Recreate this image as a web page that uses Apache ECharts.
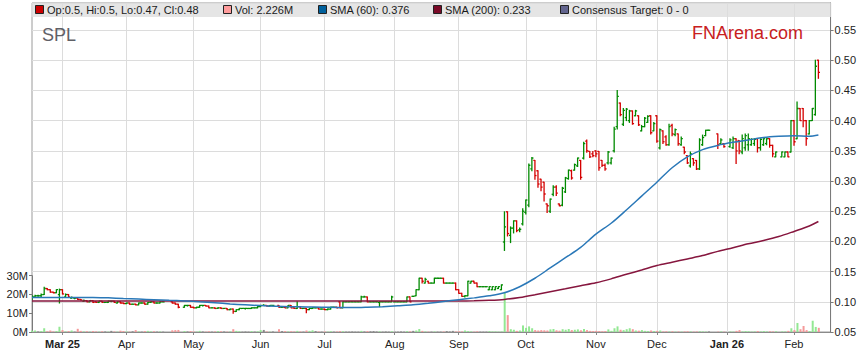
<!DOCTYPE html>
<html><head><meta charset="utf-8">
<script src="https://cdn.jsdelivr.net/npm/echarts@6/dist/echarts.min.js"></script>
<style>html,body{margin:0;padding:0;background:#fff}#c{width:859px;height:363px}</style>
</head><body><div id="c"></div>
<script>
// rows: [open, high, low, close, volume (millions)] ; null = no trading
const feb25 = [
[.104,.110,.104,.109,0.6],[.108,.111,.108,.110,0.8],[.110,.111,.109,.110,0.3],[.110,.113,.108,.112,0.5],
[.112,.124,.112,.122,2.0],[.122,.122,.120,.120,0.4],[.120,.120,.116,.116,0.8],[.116,.116,.115,.115,0.3],
[.115,.120,.115,.120,0.5],[.112,.121,.098,.120,2.8]];
const mar25 = [
[.120,.120,.113,.113,1.0],[.108,.113,.108,.112,0.3],[.112,.112,.108,.108,0.5],[.106,.108,.106,.107,0.8],
[.106,.106,.105,.106,0.2],[.106,.106,.104,.104,1.7],[.104,.104,.103,.103,0.6],[.101,.103,.101,.102,0.3],
[.102,.102,.100,.100,0.4],[.100,.102,.100,.102,0.2],[.102,.102,.099,.099,0.5],[.100,.100,.099,.099,0.3],
[.099,.101,.099,.101,0.2],[.101,.101,.099,.099,0.4],[.099,.099,.099,.099,0.3],[.099,.101,.099,.101,0.2],
[.101,.101,.100,.101,0.6],[.101,.101,.099,.099,0.3],[.098,.100,.098,.100,0.2],[.100,.100,.098,.098,0.7],
[.098,.098,.097,.097,0.5]];
const apr25 = [
[.097,.098,.097,.098,0.3],[.098,.098,.096,.096,0.2],[.096,.096,.096,.096,0.4],[.096,.096,.095,.095,1.0],
[.095,.098,.095,.098,0.3],[.098,.098,.098,.098,0.2],[.098,.098,.096,.096,0.5],[.096,.099,.096,.099,0.6],
[.099,.100,.099,.100,0.3],[.100,.100,.098,.098,0.4],[.098,.098,.098,.098,0.2],[.098,.100,.098,.100,0.3],
[.100,.100,.100,.100,0.2],null,null,[.100,.100,.098,.098,0.9],[.098,.098,.096,.096,1.0],
[.096,.096,.090,.091,1.1],null,[.091,.094,.091,.094,0.5],[.094,.094,.093,.094,0.3],[.094,.094,.091,.091,0.5]];
const may25 = [
[.091,.091,.090,.090,0.3],[.090,.091,.090,.091,0.2],[.091,.094,.091,.094,0.6],[.094,.094,.093,.094,0.3],
[.094,.094,.093,.093,0.2],[.093,.093,.090,.090,0.4],[.090,.090,.090,.090,0.2],[.090,.090,.089,.089,0.3],
[.089,.090,.089,.090,0.5],[.090,.090,.089,.089,0.4],[.089,.089,.089,.089,0.3],[.089,.089,.087,.087,0.2],
[.087,.088,.087,.088,0.3],[.088,.088,.081,.084,1.5],[.084,.087,.084,.087,0.6],[.087,.089,.087,.089,0.4],
[.089,.089,.089,.089,0.2],[.089,.089,.088,.089,0.3],[.089,.089,.089,.089,0.2],[.089,.090,.089,.090,0.5],
[.090,.090,.090,.090,0.2],[.090,.092,.090,.092,0.4]];
const jun25 = [
[.092,.094,.092,.094,1.0],[.094,.095,.094,.094,1.1],[.094,.094,.093,.093,0.3],[.093,.094,.093,.094,0.2],
[.094,.094,.094,.094,0.3],null,[.094,.094,.091,.091,1.5],[.091,.091,.091,.091,0.5],
[.091,.091,.090,.090,0.5],[.090,.094,.090,.094,0.3],[.094,.094,.090,.090,0.4],[.090,.090,.089,.089,0.3],
[.089,.100,.089,.092,0.6],[.092,.092,.089,.089,0.3],[.089,.089,.089,.089,0.2],[.089,.089,.082,.087,0.8],
[.087,.089,.087,.089,0.6],[.089,.090,.089,.090,0.9],[.090,.090,.090,.090,0.5],[.090,.090,.088,.088,0.3],
[.088,.088,.088,.088,0.2]];
const jul25 = [
[.088,.088,.087,.087,0.3],[.087,.088,.087,.088,0.2],[.088,.091,.088,.091,0.4],[.091,.091,.091,.091,0.2],
[.091,.091,.090,.090,0.3],[.100,.100,.090,.090,0.5],[.090,.100,.090,.100,0.4],[.100,.100,.100,.100,0.2],
[.100,.100,.100,.100,0.2],[.100,.100,.100,.100,0.3],[.100,.100,.100,.100,0.2],[.100,.100,.100,.100,0.2],
[.100,.109,.100,.108,0.6],[.108,.109,.108,.108,0.3],[.108,.108,.100,.100,0.5],[.100,.100,.100,.100,0.4],
[.100,.100,.100,.100,0.5],[.100,.100,.100,.100,0.3],[.099,.100,.092,.100,0.4],[.100,.100,.100,.100,0.2],
[.100,.100,.100,.100,0.3],[.100,.100,.100,.100,0.2],[.100,.109,.100,.108,0.4]];
const aug25 = [
[.100,.100,.100,.100,0.2],[.100,.100,.100,.100,0.2],[.100,.100,.100,.100,0.3],[.100,.100,.100,.100,0.2],
[.100,.108,.100,.108,0.5],[.108,.108,.100,.100,0.4],[.109,.109,.109,.109,0.6],[.110,.120,.110,.120,0.8],
[.120,.139,.120,.139,1.6],[.139,.139,.131,.134,0.6],[.131,.139,.131,.137,0.3],[.134,.134,.131,.131,0.2],
[.131,.131,.131,.131,0.2],[.131,.139,.131,.139,0.3],[.139,.139,.139,.139,0.2],[.139,.139,.139,.139,0.2],
[.139,.139,.131,.131,0.3],[.131,.131,.131,.131,0.5],[.131,.131,.131,.131,0.3],[.131,.131,.131,.131,0.6],
[.131,.131,.120,.120,0.3]];
const sep25 = [
[.120,.120,.114,.114,0.4],[.114,.114,.109,.109,0.3],[.109,.110,.108,.110,0.8],[.110,.134,.110,.134,0.5],
[.131,.134,.131,.134,0.3],[.134,.134,.131,.131,0.2],[.131,.131,.125,.125,0.4],[.125,.125,.125,.125,0.2],
[.125,.125,.125,.125,0.2],[.125,.125,.125,.125,0.2],[.120,.125,.120,.125,0.5],[.120,.125,.120,.125,0.3],
[.120,.125,.120,.125,0.3],[.122,.125,.122,.125,0.2],[.120,.128,.120,.128,0.3],[.199,.249,.185,.224,21.4],
[.249,.249,.209,.213,9.0],[.210,.224,.198,.222,1.5],[.222,.234,.214,.234,1.2],[.234,.234,.216,.218,0.6],
[.219,.222,.216,.220,0.8],[.229,.254,.227,.250,3.5]];
const oct25 = [
[.248,.2685,.2453,.2685,2.2],[.260,.328,.2575,.326,3.0],[.320,.339,.317,.338,2.0],[.334,.334,.303,.309,1.0],
[.317,.317,.2895,.295,0.8],[.303,.303,.284,.290,1.0],[.298,.298,.267,.2785,0.9],[.262,.262,.248,.259,0.8],
[.250,.270,.248,.270,1.4],[.278,.292,.2757,.290,1.6],[.290,.292,.276,.280,0.9],[.262,.262,.259,.259,0.7],
[.260,.2895,.259,.288,1.5],[.282,.306,.281,.305,1.2],[.304,.318,.303,.318,1.6],[.317,.318,.303,.305,1.0],
[.318,.328,.318,.327,1.2],[.325,.338,.324,.338,1.4],[.334,.334,.303,.306,0.9],[.338,.364,.3366,.362,1.6],
[.366,.368,.3476,.350,1.0],[.349,.349,.339,.340,0.6],[.345,.349,.340,.342,0.5]];
const nov25 = [
[.350,.350,.340,.345,0.6],[.349,.349,.318,.322,0.5],[.334,.334,.324,.326,0.4],[.326,.328,.318,.320,0.5],
[.330,.349,.328,.348,1.4],[.330,.338,.328,.338,0.6],[.350,.389,.348,.386,2.0],[.390,.450,.386,.440,3.0],
[.429,.429,.408,.410,1.2],[.394,.420,.392,.417,1.0],[.405,.420,.400,.419,1.5],[.400,.417,.397,.416,2.0],
[.416,.416,.394,.395,1.5],[.408,.417,.408,.416,0.8],[.408,.408,.392,.393,0.7],[.383,.392,.383,.390,1.0],
[.390,.405,.390,.404,0.6],[.397,.408,.397,.407,0.5],[.408,.408,.378,.380,0.8],[.383,.397,.383,.395,0.5]];
const dec25 = [
[.408,.408,.364,.366,0.6],[.355,.386,.353,.385,0.8],[.383,.383,.362,.365,0.3],[.373,.375,.359,.360,0.4],
[.360,.394,.359,.390,0.3],[.392,.394,.375,.378,0.4],[.377,.386,.375,.385,0.2],[.378,.378,.359,.362,0.3],
[.360,.373,.359,.370,0.2],[.356,.356,.345,.348,0.3],[.342,.342,.329,.330,0.4],[.325,.348,.323,.345,0.3],
[.337,.337,.326,.330,0.2],[.334,.334,.319,.320,0.3],[.320,.370,.319,.368,0.4],[.360,.376,.359,.372,0.3],
[.375,.384,.375,.384,0.2],[.384,.384,.384,.384,0.3],null,null,[.378,.378,.354,.360,0.2],
[.362,.370,.362,.368,0.3],[.362,.362,.356,.357,0.2]];
const jan26 = [
null,[.357,.370,.356,.368,0.3],[.355,.373,.354,.370,0.2],[.370,.370,.329,.350,0.6],[.367,.367,.345,.350,1.0],
[.348,.376,.345,.370,0.3],[.355,.378,.351,.375,0.5],[.360,.378,.351,.370,0.4],[.360,.370,.359,.369,0.2],
[.362,.370,.359,.369,0.3],[.370,.370,.348,.355,0.5],[.355,.370,.351,.369,0.3],[.360,.370,.359,.370,0.5],
[.362,.370,.360,.370,0.3],[.370,.370,.356,.359,0.4],[.359,.359,.340,.345,0.3],[.340,.348,.340,.348,0.4],
null,[.340,.348,.340,.348,0.3],[.340,.348,.340,.348,0.3],[.348,.348,.340,.340,0.6],[.348,.400,.348,.400,2.0]];
const feb26 = [
[.400,.400,.359,.365,1.0],[.370,.431,.370,.420,4.8],[.420,.420,.400,.400,1.5],[.420,.420,.390,.400,3.2],
[.400,.400,.359,.370,1.0],[.378,.400,.378,.400,0.5],[.400,.420,.400,.420,6.0],[.410,.500,.409,.490,2.7],
[.500,.500,.470,.480,2.226],null,null,null,null];

const monthKeys = ['2025-02','2025-03','2025-04','2025-05','2025-06','2025-07','2025-08','2025-09','2025-10','2025-11','2025-12','2026-01','2026-02'];
const monthRows = [feb25,mar25,apr25,may25,jun25,jul25,aug25,sep25,oct25,nov25,dec25,jan26,feb26];

// SMA readings (weekly points, category index)
const smaIdx = [0,5,10,15,20,25,30,35,40,45,50,55,60,65,70,75,80,85,90,95,100,105,110,115,120,125,130,135,140,145,150,155,160,165,170,175,180,185,190,195,200,205,210,215,220,225,230,235,240,245,250,255,258];
const sma60 = [.107,.1072,.1073,.1072,.107,.1065,.1055,.1045,.1035,.1025,.1015,.100,.0985,.0965,.095,.0937,.0928,.092,.0915,.091,.0906,.0904,.091,.092,.0935,.095,.0975,.1005,.1035,.1065,.110,.115,.125,.139,.156,.173,.19,.212,.230,.252,.275,.298,.322,.340,.352,.359,.364,.368,.372,.374,.375,.374,.376];
const sma200 = [.1013,.1013,.1013,.1013,.1013,.1013,.1013,.1013,.1013,.1013,.1013,.1013,.1013,.1013,.1013,.1013,.1013,.1013,.1013,.1013,.1013,.1013,.1013,.1013,.1013,.1013,.1013,.1013,.1014,.1017,.1025,.104,.1072,.1117,.1167,.1216,.1266,.1315,.138,.1455,.1525,.160,.1655,.171,.1765,.1835,.1895,.196,.2015,.208,.2165,.2255,.233];

const legendLabels = ['Op:0.5, Hi:0.5, Lo:0.47, Cl:0.48','Vol: 2.226M','SMA (60): 0.376','SMA (200): 0.233','Consensus Target: 0 - 0'];
const monthNames = ['Jan','Feb','Mar','Apr','May','Jun','Jul','Aug','Sep','Oct','Nov','Dec'];
const volTicks = [0, 10e6, 20e6, 30e6];

// weekday categories
const cats = [];
let t = Date.UTC(2025,1,17);
const tEnd = Date.UTC(2026,1,18);
while (t <= tEnd) {
  const d = new Date(t);
  const wd = d.getUTCDay();
  if (wd !== 0 && wd !== 6) {
    cats.push(d.toISOString().slice(0,10));
  }
  t += 86400000;
}
const GREEN = '#008a00', RED = '#d40000';
const ohlc = [], vol = [];
monthKeys.forEach((k, m) => {
  const start = cats.findIndex(c => c.startsWith(k));
  monthRows[m].forEach((r, j) => {
    if (!r) return;
    const i = start + j;
    ohlc.push([i, r[0], r[1], r[2], r[3]]);
    const col = r[3] > r[0] ? '#93e893' : (r[3] < r[0] ? '#f59a9a' : '#8a8a8a');
    vol.push({value: [i, r[4] * 1e6], itemStyle: {color: col}});
  });
});
const isMonthStart = i => i > 0 && cats[i].slice(0,7) !== cats[i-1].slice(0,7);
let firstLabel = -1;
for (let i = 0; i < cats.length; i++) if (isMonthStart(i)) { firstLabel = i; break; }
function monthLabel(value, index) {
  const y = value.slice(2,4), mo = +value.slice(5,7);
  if (mo === 1 || index === firstLabel) return '{b|' + monthNames[mo-1] + ' ' + y + '}';
  return monthNames[mo-1];
}

function renderOHLC(params, api) {
  const x = api.value(0);
  const o = api.value(1), h = api.value(2), l = api.value(3), c = api.value(4);
  const pO = api.coord([x, o]), pH = api.coord([x, h]), pL = api.coord([x, l]), pC = api.coord([x, c]);
  const w = 1.6;
  const col = c >= o ? GREEN : RED;
  const st = {stroke: col, lineWidth: 1.3};
  return {type: 'group', children: [
    {type: 'line', shape: {x1: pH[0], y1: pH[1] - 0.5, x2: pL[0], y2: pL[1] + 0.5}, style: st},
    {type: 'line', shape: {x1: pO[0] - w, y1: pO[1], x2: pO[0], y2: pO[1]}, style: st},
    {type: 'line', shape: {x1: pC[0], y1: pC[1], x2: pC[0] + w, y2: pC[1]}, style: st}
  ]};
}

const legendX = [35, 223, 318, 433, 560];
const legendColors = ['#cc0000', '#ff9c9c', '#00609c', '#7a0a28', '#62648e'];
const graphics = [
  {type: 'rect', shape: {x: 31, y: 3, width: 800, height: 14}, style: {fill: 'rgba(222,222,222,0.78)'}, z: 100},
  {type: 'text', x: 42, y: 26, style: {text: 'SPL', fill: '#5f6066', font: '18px "Liberation Sans", Arial, sans-serif'}, z: 100},
  {type: 'text', x: 692, y: 24, style: {text: 'FNArena.com', fill: '#c8201e', font: '18px "Liberation Sans", Arial, sans-serif'}, z: 100}
];
legendLabels.forEach((s, k) => {
  graphics.push({type: 'rect', shape: {x: legendX[k] + 0.5, y: 5.5, width: 8, height: 8}, style: {fill: legendColors[k], stroke: '#222', lineWidth: 1}, z: 101});
  graphics.push({type: 'text', x: legendX[k] + 12, y: 4, style: {text: s, fill: '#1a1a1a', font: '11px "Liberation Sans", Arial, sans-serif'}, z: 101});
});

const chart = echarts.init(document.getElementById('c'), null, {renderer: 'svg'});
chart.setOption({
  animation: false,
  backgroundColor: '#fff',
  textStyle: {fontFamily: '"Liberation Sans", Arial, sans-serif'},
  grid: [
    {left: 32, right: 28, top: 3, bottom: 31, show: true, borderColor: '#9a9a9a', borderWidth: 1, backgroundColor: '#fff'},
    {left: 32, right: 28, bottom: 31, height: 56.3}
  ],
  xAxis: [
    {type: 'category', gridIndex: 0, data: cats, boundaryGap: false,
     axisLine: {lineStyle: {color: '#8a8a8a'}},
     axisTick: {show: true, length: 3, interval: (i) => isMonthStart(i), lineStyle: {color: '#8a8a8a'}},
     axisLabel: {interval: (i) => isMonthStart(i), formatter: monthLabel, color: '#222', fontSize: 11, margin: 6,
       rich: {b: {fontWeight: 'bold', fontSize: 11, color: '#222'}}},
     splitLine: {show: true, interval: (i) => isMonthStart(i), lineStyle: {color: '#dcdcdc', width: 1}}},
    {type: 'category', gridIndex: 1, data: cats, boundaryGap: false, show: false}
  ],
  yAxis: [
    {type: 'value', gridIndex: 0, position: 'right', min: 0.05, max: 0.5947, interval: 0.05,
     axisLine: {show: true, lineStyle: {color: '#7a7a7a'}},
     axisTick: {show: true, length: 3, lineStyle: {color: '#7a7a7a'}},
     axisLabel: {formatter: v => v.toFixed(2), color: '#222', fontSize: 11, margin: 4, showMaxLabel: false},
     splitLine: {show: true, lineStyle: {color: '#dcdcdc', width: 1}}},
    {type: 'value', gridIndex: 1, position: 'left', min: 0, max: 30e6, interval: 10e6,
     axisLine: {show: true, lineStyle: {color: '#7a7a7a'}},
     axisTick: {show: true, length: 3, lineStyle: {color: '#7a7a7a'}},
     axisLabel: {formatter: v => Math.round(v / 1e6) + 'M', color: '#222', fontSize: 11, margin: 4},
     splitLine: {show: false}}
  ],
  series: [
    {type: 'bar', xAxisIndex: 1, yAxisIndex: 1, data: vol, barWidth: 2, z: 1},
    {type: 'custom', xAxisIndex: 0, yAxisIndex: 0, renderItem: renderOHLC, data: ohlc,
     encode: {x: 0, y: [1, 2, 3, 4]}, z: 3, clip: true},
    {type: 'line', xAxisIndex: 0, yAxisIndex: 0, data: smaIdx.map((x, k) => [x, sma200[k]]),
     showSymbol: false, symbol: 'none', smooth: 0.3, lineStyle: {color: '#86163e', width: 1.5}, z: 4},
    {type: 'line', xAxisIndex: 0, yAxisIndex: 0, data: smaIdx.map((x, k) => [x, sma60[k]]),
     showSymbol: false, symbol: 'none', smooth: 0.3, lineStyle: {color: '#2a78b8', width: 1.5}, z: 4}
  ],
  graphic: graphics
});
</script></body></html>
